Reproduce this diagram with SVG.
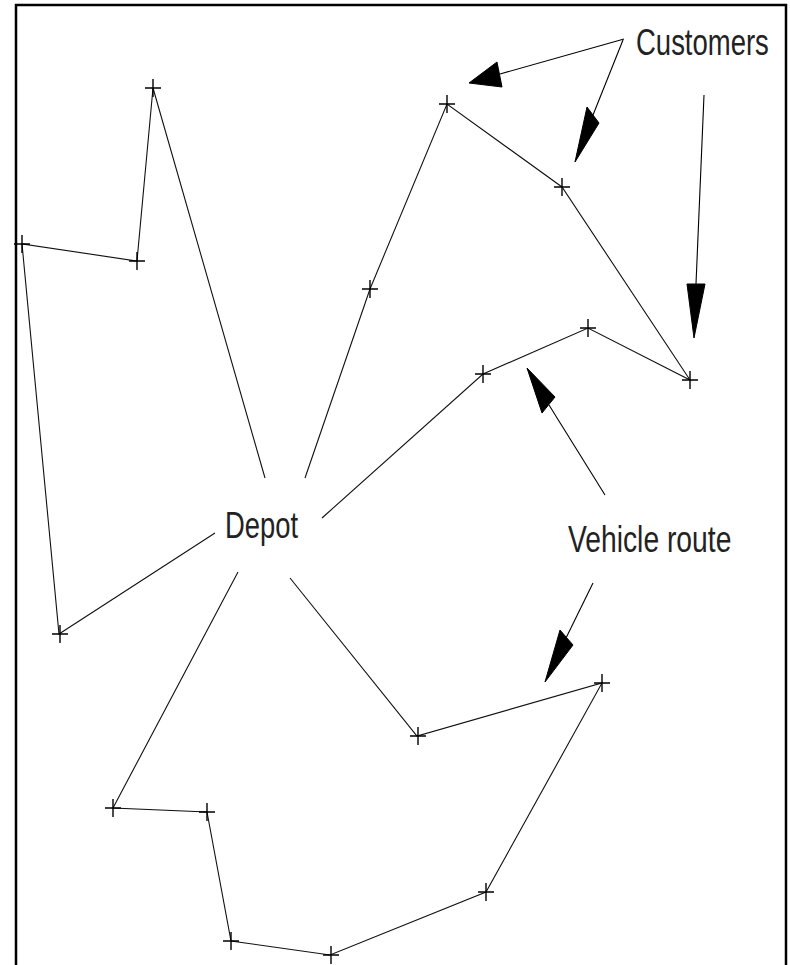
<svg xmlns="http://www.w3.org/2000/svg" width="790" height="965" viewBox="0 0 790 965">
<style>
.route{fill:none;stroke:#111;stroke-width:1.1}
.cross{stroke:#000;stroke-width:1.4;fill:none}
.ptr{stroke:#000;stroke-width:1.1;fill:none}
.head{fill:#000;stroke:#000;stroke-width:1}
.lbl{font-family:"Liberation Sans",Arial,sans-serif;font-size:37px;fill:#222}
</style>
<defs>
<path id="x" class="cross" d="M-8,0H8M0,-9V9"/>
</defs>
<rect x="0" y="0" width="790" height="965" fill="#fff"/>
<path d="M16,975V5H786V975" fill="none" stroke="#000" stroke-width="2.5"/>
<g id="connectors">
<polyline class="route" points="265,478 153,88 137,261 22,244 59,634 215,533"/>
<polyline class="route" points="305,478 370,289 447,104 562,187 690,380 588,328 483,374 322,518"/>
<polyline class="route" points="290,578 417,736 602,683 486,892 330,955 231,941 207,812 113,808 238,572"/>
<line class="ptr" x1="624" y1="39" x2="500" y2="74"/>
<polygon class="head" points="469,83 497,62 502,87"/>
<line class="ptr" x1="623" y1="40" x2="593" y2="115"/>
<polygon class="head" points="575,162 587,107 599,123"/>
<line class="ptr" x1="704" y1="95" x2="696" y2="284"/>
<polygon class="head" points="694,338 687,284 705,284"/>
<line class="ptr" x1="605" y1="495" x2="549" y2="405"/>
<polygon class="head" points="527,368 542,413 555,397"/>
<line class="ptr" x1="593" y1="583" x2="566" y2="638"/>
<polygon class="head" points="545,682 560,630 573,645"/>
</g>
<g id="n1"><use href="#x" x="153" y="88"/></g>
<g id="n2"><use href="#x" x="137" y="261"/></g>
<g id="n3"><use href="#x" x="22" y="244"/></g>
<g id="n4"><use href="#x" x="60" y="634"/></g>
<g id="n5"><use href="#x" x="370" y="289"/></g>
<g id="n6"><use href="#x" x="447" y="104"/></g>
<g id="n7"><use href="#x" x="562" y="187"/></g>
<g id="n8"><use href="#x" x="690" y="380"/></g>
<g id="n9"><use href="#x" x="588" y="328"/></g>
<g id="n10"><use href="#x" x="483" y="374"/></g>
<g id="n11"><use href="#x" x="418" y="736"/></g>
<g id="n12"><use href="#x" x="602" y="683"/></g>
<g id="n13"><use href="#x" x="486" y="892"/></g>
<g id="n14"><use href="#x" x="331" y="955"/></g>
<g id="n15"><use href="#x" x="231" y="941"/></g>
<g id="n16"><use href="#x" x="207" y="812"/></g>
<g id="n17"><use href="#x" x="113" y="808"/></g>
<g id="depot"><text class="lbl" transform="translate(225,538) scale(0.74,1)">Depot</text></g>
<g id="customers"><text class="lbl" transform="translate(636,55) scale(0.743,1)">Customers</text></g>
<g id="vehicle-route"><text class="lbl" transform="translate(568,552) scale(0.764,1)">Vehicle route</text></g>
</svg>
